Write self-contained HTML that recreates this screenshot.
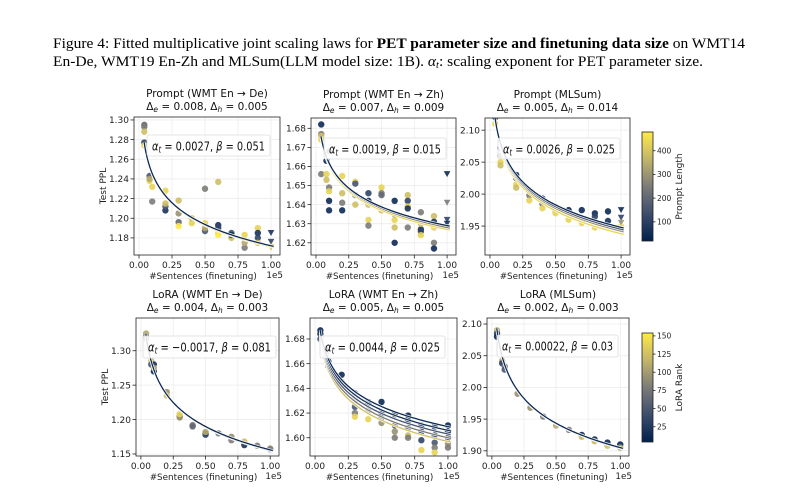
<!DOCTYPE html>
<html><head><meta charset="utf-8">
<style>
body{margin:0;background:#fff;}
svg{display:block;font-family:"DejaVu Sans","Liberation Sans",sans-serif;}
</style></head>
<body>
<svg id="fig" width="786" height="500" viewBox="0 0 786 500" xmlns="http://www.w3.org/2000/svg">
<text x="53" y="48" font-family="Liberation Serif,serif" font-size="15" textLength="692" lengthAdjust="spacingAndGlyphs">Figure 4:  Fitted multiplicative joint scaling laws for <tspan font-weight="bold">PET parameter size and finetuning data size</tspan> on WMT14</text>
<text x="53" y="66" font-family="Liberation Serif,serif" font-size="15" textLength="650" lengthAdjust="spacingAndGlyphs">En-De, WMT19 En-Zh and MLSum(LLM model size:  1B). <tspan font-style="italic">α<tspan font-size="10" dy="2">t</tspan></tspan><tspan dy="-2">: scaling exponent for PET parameter size.</tspan></text>
<g id="plots"></g>
</svg>
<script>
// ---- data ----
const xTicks = [0, 0.25, 0.5, 0.75, 1.0];
const xTickLabels = ["0.00","0.25","0.50","0.75","1.00"];
const tlY = [1.18,1.20,1.22,1.24,1.26,1.28,1.30];
const tmY = [1.62,1.63,1.64,1.65,1.66,1.67,1.68];
const trY = [1.95,2.00,2.05,2.10];
const blY = [1.15,1.20,1.25,1.30];
const bmY = [1.60,1.62,1.64,1.66,1.68];
const brY = [1.90,1.95,2.00,2.05,2.10];
// points: [x, y, colorFraction]
const tlPts = [[0.04,1.295,0.4],[0.04,1.293,0.5],[0.04,1.288,0.8],[0.04,1.277,0.2],[0.04,1.274,0.9],[0.08,1.243,0.3],[0.08,1.238,0.9],[0.08,1.24,0.7],[0.1,1.217,0.5],[0.1,1.232,0.9],[0.2,1.208,0.1],[0.2,1.212,0.3],[0.2,1.228,0.9],[0.2,1.215,0.8],[0.3,1.196,0.4],[0.3,1.218,0.8],[0.3,1.192,1],[0.3,1.205,0.6],[0.4,1.195,0.9],[0.4,1.2,0.8],[0.5,1.23,0.5],[0.5,1.187,0.3],[0.5,1.195,0.9],[0.5,1.19,0.7],[0.6,1.237,0.8],[0.6,1.193,0.1],[0.6,1.19,0.2],[0.6,1.185,0.9],[0.6,1.183,1],[0.7,1.185,0.3],[0.7,1.18,0.8],[0.7,1.183,0.1],[0.8,1.17,0.5],[0.8,1.183,0.9],[0.8,1.175,0.7],[0.9,1.19,0.9],[0.9,1.185,0.1],[0.9,1.18,0.2],[0.9,1.175,0.8],[1.0,1.185,0.1],[1.0,1.176,0.2],[1.0,1.171,0.9],[1.0,1.17,0.8]];
const tmPts = [[0.04,1.682,0.05],[0.04,1.677,0.5],[0.04,1.676,0.8],[0.04,1.674,0.9],[0.04,1.656,0.5],[0.08,1.663,0.05],[0.08,1.656,0.9],[0.08,1.653,0.8],[0.1,1.668,0.5],[0.1,1.642,0.05],[0.1,1.637,0.05],[0.1,1.649,0.5],[0.1,1.647,0.9],[0.2,1.655,0.9],[0.2,1.641,0.5],[0.2,1.637,0.05],[0.2,1.646,0.8],[0.3,1.652,0.9],[0.3,1.651,0.3],[0.3,1.645,0.5],[0.3,1.64,0.8],[0.4,1.646,0.2],[0.4,1.642,0.1],[0.4,1.632,0.9],[0.4,1.629,0.5],[0.4,1.64,0.8],[0.5,1.649,0.9],[0.5,1.646,0.5],[0.5,1.645,0.4],[0.5,1.637,0.8],[0.6,1.642,0.05],[0.6,1.62,0.05],[0.6,1.628,0.8],[0.6,1.632,0.9],[0.6,1.635,0.5],[0.7,1.645,0.8],[0.7,1.642,0.2],[0.7,1.639,0.9],[0.7,1.628,0.5],[0.7,1.638,0.1],[0.8,1.636,0.5],[0.8,1.627,0.1],[0.8,1.626,0.2],[0.8,1.624,0.9],[0.8,1.63,0.8],[0.9,1.634,0.8],[0.9,1.631,0.1],[0.9,1.62,0.5],[0.9,1.617,0.05],[0.9,1.628,0.9],[1.0,1.656,0.05],[1.0,1.641,0.5],[1.0,1.632,0.2],[1.0,1.63,0.1]];
const trPts = [[0.04,2.13,0.05],[0.04,2.125,0.1],[0.04,2.12,0.3],[0.04,2.11,0.9],[0.08,2.072,0.05],[0.08,2.06,0.5],[0.08,2.05,0.9],[0.08,2.045,0.8],[0.2,2.03,0.05],[0.2,2.025,0.3],[0.2,2.015,0.9],[0.2,2.01,0.8],[0.3,2.005,0.1],[0.3,1.998,0.5],[0.3,1.99,0.9],[0.4,1.993,0.05],[0.4,1.985,0.4],[0.4,1.978,0.9],[0.5,1.98,0.05],[0.5,1.975,0.5],[0.5,1.97,0.9],[0.6,1.975,0.05],[0.6,1.968,0.4],[0.6,1.96,0.9],[0.7,1.975,0.05],[0.7,1.96,0.7],[0.7,1.955,0.9],[0.8,1.97,0.05],[0.8,1.965,0.2],[0.8,1.955,0.8],[0.8,1.948,0.9],[0.9,1.973,0.05],[0.9,1.958,0.1],[0.9,1.948,0.8],[1.0,1.975,0.05],[1.0,1.963,0.2],[1.0,1.955,0.6],[1.0,1.948,0.9]];
const blPts = [[0.04,1.325,0.7],[0.04,1.32,0.4],[0.04,1.318,0.5],[0.08,1.285,0.8],[0.08,1.28,0.3],[0.1,1.28,0.1],[0.1,1.27,0.05],[0.1,1.275,0.7],[0.2,1.24,0.6],[0.2,1.235,0.8],[0.3,1.205,0.4],[0.3,1.203,0.6],[0.3,1.208,0.9],[0.4,1.192,0.5],[0.4,1.19,0.4],[0.5,1.18,0.1],[0.5,1.178,0.2],[0.5,1.182,0.7],[0.6,1.18,0.5],[0.7,1.175,0.6],[0.7,1.17,0.5],[0.8,1.168,0.8],[0.8,1.163,0.1],[0.9,1.162,0.5],[1.0,1.158,0.7],[1.0,1.157,0.5]];
const bmPts = [[0.04,1.687,0.05],[0.04,1.684,0.1],[0.04,1.68,0.3],[0.08,1.672,0.1],[0.08,1.668,0.3],[0.08,1.665,0.5],[0.1,1.662,0.05],[0.1,1.658,0.2],[0.2,1.651,0.05],[0.2,1.645,0.1],[0.2,1.642,0.3],[0.3,1.636,0.05],[0.3,1.63,0.1],[0.3,1.625,0.3],[0.3,1.62,0.5],[0.3,1.617,0.9],[0.4,1.629,0.05],[0.4,1.628,0.1],[0.4,1.622,0.3],[0.4,1.615,0.9],[0.5,1.629,0.05],[0.5,1.62,0.1],[0.5,1.616,0.4],[0.5,1.612,0.6],[0.6,1.619,0.05],[0.6,1.61,0.3],[0.6,1.605,0.6],[0.6,1.6,0.5],[0.7,1.618,0.05],[0.7,1.614,0.1],[0.7,1.608,0.3],[0.7,1.602,0.8],[0.7,1.6,0.5],[0.8,1.61,0.05],[0.8,1.605,0.1],[0.8,1.598,0.2],[0.8,1.59,0.9],[0.9,1.609,0.05],[0.9,1.602,0.1],[0.9,1.596,0.3],[0.9,1.592,0.5],[0.9,1.588,0.9],[1.0,1.61,0.05],[1.0,1.605,0.1],[1.0,1.6,0.3],[1.0,1.595,0.6],[1.0,1.592,0.5]];
const brPts = [[0.04,2.09,0.7],[0.04,2.085,0.2],[0.04,2.08,0.05],[0.08,2.042,0.7],[0.08,2.038,0.2],[0.1,2.033,0.5],[0.1,2.028,0.3],[0.2,1.99,0.6],[0.3,1.968,0.6],[0.4,1.954,0.5],[0.5,1.94,0.7],[0.6,1.933,0.5],[0.7,1.925,0.05],[0.7,1.922,0.8],[0.8,1.918,0.05],[0.8,1.915,0.8],[0.9,1.913,0.05],[0.9,1.908,0.8],[1.0,1.91,0.05],[1.0,1.905,0.7]];
// fitted curves: [y at x=0.04, y at x=1.0, colorFraction]
const tlFits = [[1.275,1.171,0.9],[1.276,1.172,0.05]];
const tmFits = [[1.674,1.627,0.9],[1.675,1.628,0.5],[1.675,1.629,0.05]];
const trFits = [[2.11,1.938,0.9],[2.113,1.942,0.6],[2.115,1.945,0.3],[2.117,1.948,0.05]];
const blFits = [[1.321,1.155,0.6],[1.322,1.156,0.05]];
const bmFits = [[1.678,1.597,0.8],[1.68,1.600,0.5],[1.682,1.603,0.3],[1.684,1.606,0.1],[1.686,1.609,0.05]];
const brFits = [[2.089,1.904,0.6],[2.09,1.905,0.05]];
const cbTop = [100,200,300,400];
const cbBot = [25,50,75,100,125,150];

const NS="http://www.w3.org/2000/svg";
const root=document.getElementById('plots');
function mk(tag,attrs,parent){const e=document.createElementNS(NS,tag);for(const k in attrs)e.setAttribute(k,attrs[k]);(parent||root).appendChild(e);return e;}
const stops=[[0,[0,32,77]],[0.25,[60,77,110]],[0.5,[124,123,120]],[0.75,[195,180,108]],[1,[255,234,70]]];
function cmap(t){t=Math.max(0,Math.min(1,t));for(let i=1;i<stops.length;i++){if(t<=stops[i][0]){const a=stops[i-1],b=stops[i],f=(t-a[0])/(b[0]-a[0]);return 'rgb('+a[1].map((v,j)=>Math.round(v+(b[1][j]-v)*f)).join(',')+')';}}return 'rgb(255,234,70)';}
const defs=mk('defs',{});

const panels=[
 {id:'prompt-wmt-en-de',L:134,R:280,T:117,B:255,y0:1.1626,y1:1.303,ticks:tlY,dec:2,pts:tlPts,fits:tlFits,t1:'Prompt (WMT En → De)',d:['0.008','0.005'],a:'0.0027',b:'0.051',box:[147,135,123,21],ylab:true,tri:true},
 {id:'prompt-wmt-en-zh',L:311,R:456,T:118,B:255,y0:1.6136,y1:1.6854,ticks:tmY,dec:2,pts:tmPts,fits:tmFits,t1:'Prompt (WMT En → Zh)',d:['0.007','0.009'],a:'0.0019',b:'0.015',box:[324,138,122,21],tri:true},
 {id:'prompt-mlsum',L:485,R:630,T:118,B:255,y0:1.9048,y1:2.119,ticks:trY,dec:2,pts:trPts,fits:trFits,t1:'Prompt (MLSum)',d:['0.005','0.014'],a:'0.0026',b:'0.025',box:[498,138,122,21],tri:true},
 {id:'lora-wmt-en-de',L:136,R:279,T:318,B:456,y0:1.1471,y1:1.3475,ticks:blY,dec:2,pts:blPts,fits:blFits,t1:'LoRA (WMT En → De)',d:['0.004','0.003'],a:'−0.0017',b:'0.081',box:[143,336,133,22],ylab:true},
 {id:'lora-wmt-en-zh',L:310,R:457,T:318,B:456,y0:1.5852,y1:1.697,ticks:bmY,dec:2,pts:bmPts,fits:bmFits,t1:'LoRA (WMT En → Zh)',d:['0.005','0.005'],a:'0.0044',b:'0.025',box:[320,336,125,22]},
 {id:'lora-mlsum',L:487,R:629,T:318,B:456,y0:1.8918,y1:2.1095,ticks:brY,dec:2,pts:brPts,fits:brFits,t1:'LoRA (MLSum)',d:['0.002','0.003'],a:'0.00022',b:'0.03',box:[497,335,121,22]}
];
panels.forEach((p,pi)=>{
 const g=mk('g',{});
 
 
 const cp=mk('clipPath',{id:'clip'+pi},defs);
 mk('rect',{x:p.L,y:p.T,width:p.R-p.L,height:p.B-p.T},cp);
 const xs=v=>p.L+(v+0.038)/(1.106)*(p.R-p.L);
 const ys=v=>p.B-(v-p.y0)/(p.y1-p.y0)*(p.B-p.T);
 xTicks.forEach(v=>{const l=mk('line',{x1:xs(v),x2:xs(v),y1:p.T,y2:p.B,stroke:'#ececec','stroke-width':0.8},g);});
 p.ticks.forEach(v=>{const l=mk('line',{x1:p.L,x2:p.R,y1:ys(v),y2:ys(v),stroke:'#ececec','stroke-width':0.8},g);});
 const inner=mk('g',{'clip-path':`url(#clip${pi})`},g);
 p.pts.forEach(q=>{
  const cx=xs(q[0]),cy=ys(q[1]),c=cmap(q[2]);
  let m;
  if(p.tri&&q[0]>=1.0){m=mk('path',{d:`M${cx-3.3},${cy-3} L${cx+3.3},${cy-3} L${cx},${cy+3} Z`,fill:c,opacity:0.9},inner);}
  else m=mk('circle',{cx:cx,cy:cy,r:3.2,fill:c,opacity:0.9},inner);
  
  
 });
 p.fits.forEach(f=>{
  const b=Math.log(f[0]/f[1])/Math.log(25);
  let d='';for(let i=0;i<=80;i++){const x=0.038+i*(1.02-0.038)/80;d+=(i?'L':'M')+xs(x).toFixed(2)+','+ys(f[1]*Math.pow(x,-b)).toFixed(2);}
  mk('path',{d:d,fill:'none',stroke:'#fff','stroke-width':2.6},inner);
  const l=mk('path',{d:d,fill:'none',stroke:cmap(f[2]),'stroke-width':1.3},inner);
  
  
 });
 const fr=mk('rect',{x:p.L,y:p.T,width:p.R-p.L,height:p.B-p.T,fill:'none',stroke:'#222','stroke-width':0.8},g);
 
 xTicks.forEach((v,i)=>{mk('line',{x1:xs(v),x2:xs(v),y1:p.B,y2:p.B+3.5,stroke:'#222','stroke-width':0.8},g);
  const t=mk('text',{x:xs(v),y:p.B+13,'font-size':9,'text-anchor':'middle',fill:'#222'},g);t.textContent=xTickLabels[i];});
 p.ticks.forEach(v=>{mk('line',{x1:p.L-3.5,x2:p.L,y1:ys(v),y2:ys(v),stroke:'#222','stroke-width':0.8},g);
  const t=mk('text',{x:p.L-5,y:ys(v)+3.2,'font-size':9,'text-anchor':'end',fill:'#222'},g);t.textContent=v.toFixed(p.dec);});
 let t=mk('text',{x:(p.L+p.R)/2-4,y:p.B+24,'font-size':8.8,'text-anchor':'middle',fill:'#222'},g);t.textContent='#Sentences (finetuning)';
 t=mk('text',{x:p.R+3,y:p.B+23,'font-size':8.8,'text-anchor':'end',fill:'#222'},g);t.textContent='1e5';
 if(p.ylab){t=mk('text',{x:0,y:0,'font-size':9,'text-anchor':'middle',fill:'#222',transform:`translate(${p.L-28},${(p.T+p.B)/2}) rotate(-90)`},g);t.textContent='Test PPL';}
 const cx=(p.L+p.R)/2;
 t=mk('text',{x:cx,y:p.T-20,'font-size':10.5,'text-anchor':'middle',fill:'#111'},g);t.textContent=p.t1;
 t=mk('text',{x:cx,y:p.T-7,'font-size':10.5,'text-anchor':'middle',fill:'#111'},g);
 t.innerHTML=`Δ<tspan font-size="7.5" font-style="italic" dy="2">e</tspan><tspan dy="-2"> = ${p.d[0]}, Δ</tspan><tspan font-size="7.5" font-style="italic" dy="2">h</tspan><tspan dy="-2"> = ${p.d[1]}</tspan>`;
 
 const bx=p.box;
 const r=mk('rect',{x:bx[0],y:bx[1],width:bx[2],height:bx[3],fill:'#fff','fill-opacity':0.85,stroke:'#ddd','stroke-width':0.8,rx:2},g);
 
 t=mk('text',{x:bx[0]+5,y:bx[1]+15.5,'font-size':12.5,fill:'#111',textLength:bx[2]-10,lengthAdjust:'spacingAndGlyphs'},g);
 t.innerHTML=`<tspan font-style="italic">α</tspan><tspan font-size="9" font-style="italic" dy="2">t</tspan><tspan dy="-2"> = ${p.a}, </tspan><tspan font-style="italic">β</tspan><tspan> = ${p.b}</tspan>`;
 
});
const grad=mk('linearGradient',{id:'cv',x1:0,y1:1,x2:0,y2:0},defs);
for(let i=0;i<=10;i++)mk('stop',{offset:i/10,'stop-color':cmap(i/10)},grad);
function colorbar(name,x,y0,y1,vmin,vmax,ticks,label){
 const g=mk('g',{});
 
 
 mk('rect',{x:x,y:y0,width:11,height:y1-y0,fill:'url(#cv)',stroke:'#222','stroke-width':0.8},g);
 const ys=v=>y1-(v-vmin)/(vmax-vmin)*(y1-y0);
 ticks.forEach(v=>{mk('line',{x1:x+11,x2:x+13.5,y1:ys(v),y2:ys(v),stroke:'#222','stroke-width':0.8},g);
  const t=mk('text',{x:x+15,y:ys(v)+2.7,'font-size':7.5,fill:'#222'},g);t.textContent=v;});
 const t=mk('text',{x:0,y:0,'font-size':9,'text-anchor':'middle',fill:'#222',transform:`translate(${x+40},${(y0+y1)/2}) rotate(-90)`},g);t.textContent=label;
}
colorbar('colorbar-prompt-length',642,132,241,19,479,cbTop,'Prompt Length');
colorbar('colorbar-lora-rank',642,333,442,4,154,cbBot,'LoRA Rank');
</script>
</body></html>
